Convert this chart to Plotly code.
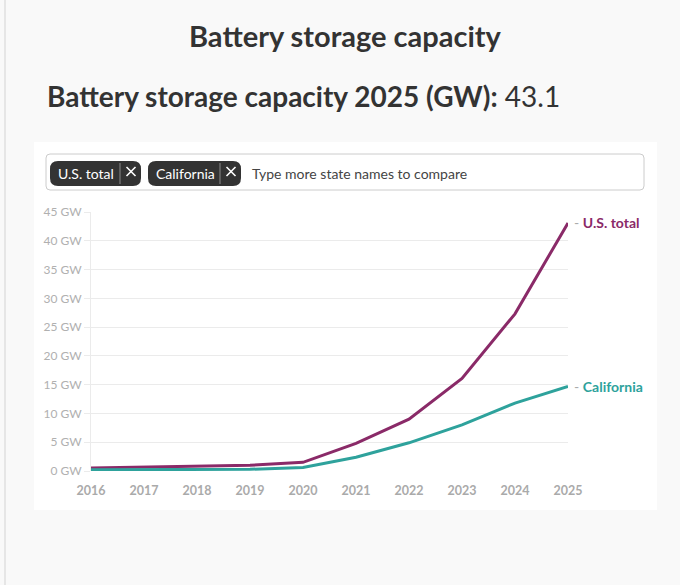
import plotly.graph_objects as go

years = [2016, 2017, 2018, 2019, 2020, 2021, 2022, 2023, 2024, 2025]
us_total = [0.5, 0.7, 0.9, 1.0, 1.5, 4.8, 9.0, 16.1, 27.3, 43.1]
california = [0.2, 0.2, 0.25, 0.3, 0.6, 2.4, 4.9, 8.0, 11.8, 14.7]
series_names = ["U.S. total", "California"]
series_colors = ["#8a2a68", "#2ea29c"]
y_ticks = [0, 5, 10, 15, 20, 25, 30, 35, 40, 45]
y_tick_labels = [f"{v} GW" for v in y_ticks]

W, H = 680, 585
FONT = "Lato"


def px(x):
    return x / W


def py(y):
    return 1 - y / H


def rrect(x0, y0, x1, y1, r):
    X0, X1 = px(x0), px(x1)
    Y0, Y1 = py(y0), py(y1)
    rx, ry = r / W, r / H
    return (f"M{X0+rx},{Y0} L{X1-rx},{Y0} Q{X1},{Y0} {X1},{Y0-ry} "
            f"L{X1},{Y1+ry} Q{X1},{Y1} {X1-rx},{Y1} L{X0+rx},{Y1} "
            f"Q{X0},{Y1} {X0},{Y1+ry} L{X0},{Y0-ry} Q{X0},{Y0} {X0+rx},{Y0} Z")


fig = go.Figure()
for name, vals, col in zip(series_names, [us_total, california], series_colors):
    fig.add_trace(go.Scatter(x=years, y=vals, mode="lines", name=name,
                             line=dict(color=col, width=3), hoverinfo="skip"))

shapes = []
# left page edge
shapes.append(dict(type="line", xref="paper", yref="paper", x0=px(5), x1=px(5), y0=0, y1=1,
                   line=dict(color="#e6e6e6", width=2), layer="below"))
# white panel
shapes.append(dict(type="rect", xref="paper", yref="paper", x0=px(34), x1=px(657),
                   y0=py(510), y1=py(142), fillcolor="white", line=dict(width=0), layer="below"))
# input box
shapes.append(dict(type="path", xref="paper", yref="paper", path=rrect(46, 154, 644, 190, 4),
                   fillcolor="white", line=dict(color="#cccccc", width=1), layer="below"))

chips = [(50, 141, 120, "U.S. total"), (148, 241, 220, "California")]
annotations = []
for cx0, cx1, sep, label in chips:
    shapes.append(dict(type="path", xref="paper", yref="paper", path=rrect(cx0, 161, cx1, 186, 8),
                       fillcolor="#333333", line=dict(width=0), layer="above"))
    shapes.append(dict(type="line", xref="paper", yref="paper", x0=px(sep), x1=px(sep),
                       y0=py(163), y1=py(184), line=dict(color="#8a8a8a", width=1)))
    cx, cy, d = (sep + cx1) / 2 + 0.5, 171.5, 4.5
    for sgn in (1, -1):
        shapes.append(dict(type="line", xref="paper", yref="paper",
                           x0=px(cx - d), x1=px(cx + d), y0=py(cy - sgn * d), y1=py(cy + sgn * d),
                           line=dict(color="white", width=1.6)))
    annotations.append(dict(xref="paper", yref="paper", x=px(cx0 + 6), y=py(173.5), text=label,
                            showarrow=False, xanchor="left", yanchor="middle",
                            font=dict(family=FONT, size=14, color="white")))

annotations.append(dict(xref="paper", yref="paper", x=px(250), y=py(173),
                        text="Type more state names to compare", showarrow=False,
                        xanchor="left", yanchor="middle",
                        font=dict(family=FONT, size=14, color="#444444")))
# titles
annotations.append(dict(xref="paper", yref="paper", x=px(345), y=py(35),
                        text="<b>Battery storage capacity</b>", showarrow=False,
                        xanchor="center", yanchor="middle",
                        font=dict(family=FONT, size=29, color="#333333")))
annotations.append(dict(xref="paper", yref="paper", x=px(45), y=py(96),
                        text=f"<b>Battery storage capacity {years[-1]} (GW):</b> {us_total[-1]}",
                        showarrow=False, xanchor="left", yanchor="middle",
                        font=dict(family=FONT, size=28, color="#333333")))
# end labels
for name, vals, col in zip(series_names, [us_total, california], series_colors):
    annotations.append(dict(xref="x", yref="y", x=years[-1], y=vals[-1],
                            text=f"<span style='color:#aaaaaa'>- </span><b>{name}</b>",
                            showarrow=False, xanchor="left", yanchor="middle", xshift=4,
                            font=dict(family=FONT, size=14, color=col)))

fig.update_layout(
    width=W, height=H,
    margin=dict(l=0, r=0, t=0, b=0, autoexpand=False),
    paper_bgcolor="#f9f9f9",
    plot_bgcolor="rgba(0,0,0,0)",
    showlegend=False,
    shapes=shapes,
    annotations=annotations,
    xaxis=dict(domain=[px(91), px(568)], range=[years[0], years[-1]],
               tickvals=years, ticktext=[str(y) for y in years],
               showgrid=False, zeroline=False, showline=False, ticks="outside",
               ticklen=8, tickcolor="rgba(0,0,0,0)", automargin=False,
               tickfont=dict(family=FONT, size=12.5, color="#aaaaaa", weight="bold"),
               fixedrange=True),
    yaxis=dict(domain=[py(471), py(212)], range=[0, 45],
               tickvals=y_ticks, ticktext=y_tick_labels,
               showgrid=True, gridcolor="#ebebeb", gridwidth=1,
               zeroline=False, showline=True, linecolor="#ebebeb", linewidth=1,
               ticks="outside", ticklen=6, tickcolor="#ebebeb", automargin=False,
               tickfont=dict(family=FONT, size=12, color="#b0b0b0"),
               fixedrange=True),
)

fig.write_html("out.html", config={"displayModeBar": False},
               post_script="document.body.style.margin='0';document.body.style.overflow='hidden';")
